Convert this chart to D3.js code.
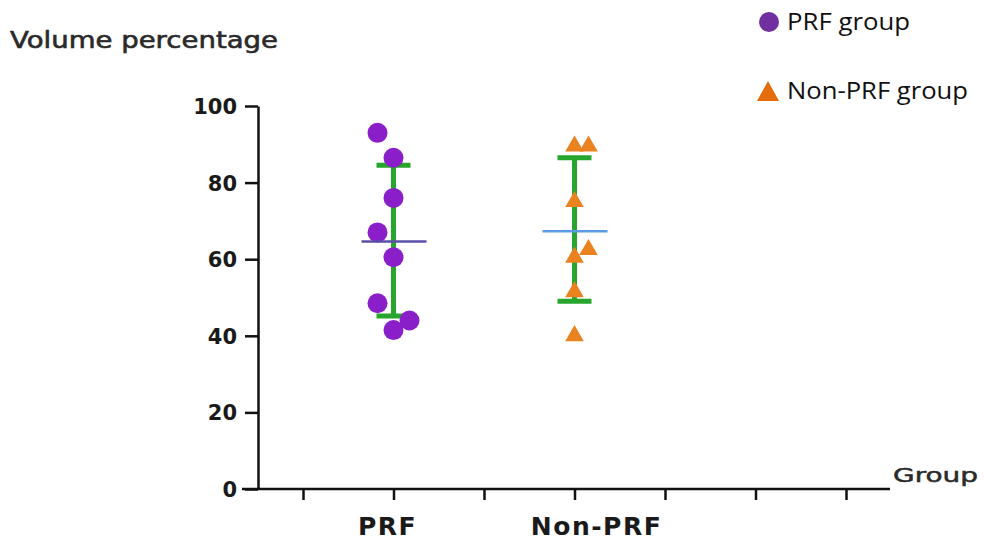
<!DOCTYPE html>
<html>
<head>
<meta charset="utf-8">
<script src="https://cdn.jsdelivr.net/npm/d3@7"></script>
<style>
  body { margin: 0; background: #fff; }
  svg { display: block; }
</style>
</head>
<body>
<svg id="chart" width="985" height="548"></svg>
<script>
// values
var yTicks = [0, 20, 40, 60, 80, 100]
var xSlots = [0, 1, 2, 3, 4, 5, 6]
var groupNames = ["PRF", "Non-PRF"]
var groupSlots = [1, 3]
var legendNames = ["PRF group", "Non-PRF group"]

var prfValues = [93, 86.5, 76, 67, 60.5, 48.5, 44, 41.5]
var prfLanes = [-1, 0, 0, -1, 0, -1, 1, 0]
var nonPrfValues = [89.5, 89.5, 75, 62.5, 60.5, 51.5, 40]
var nonPrfLanes = [0, 1, 0, 1, 0, 0, 0]

var means = [64.6, 67.3]
var upper = [84.5, 86.5]
var lower = [45.2, 49]

var svg = d3.select('#chart')

var x = d3.scaleLinear().domain([0, 6]).range([303, 846])
var y = d3.scaleLinear().domain([0, 100]).range([489, 106])

// y axis
var yAxis = svg.append('g')
    .attr('transform', 'translate(258,0)')
    .call(d3.axisLeft(y).tickValues(yTicks).tickSize(13).tickPadding(8).tickSizeOuter(0))
yAxis.select('.domain').attr('stroke', '#111').attr('stroke-width', 2.5)
yAxis.selectAll('.tick line').attr('stroke', '#111').attr('stroke-width', 2.5)
yAxis.selectAll('.tick text')
    .attr('fill', '#1a1a1a')
    .attr('dy', '0.36em')
    .style('font-family', 'DejaVu Sans')
    .style('font-weight', 'bold')
    .style('font-size', '21px')

// x axis
var xAxis = svg.append('g')
    .attr('transform', 'translate(0,489)')
    .call(d3.axisBottom(x).tickValues(xSlots).tickSize(11).tickFormat('').tickSizeOuter(0))
xAxis.select('.domain').attr('d', 'M242,0H890').attr('stroke', '#111').attr('stroke-width', 2.5)
xAxis.selectAll('.tick line').attr('stroke', '#111').attr('stroke-width', 2.5)

var labelNudge = [-6, 22]
svg.selectAll('.groupLabel')
    .data(groupNames)
    .enter().append('text')
    .attr('class', 'groupLabel')
    .attr('x', (d, i) => x(groupSlots[i]) + labelNudge[i])
    .attr('y', 535)
    .attr('text-anchor', 'middle')
    .attr('fill', '#1a1a1a')
    .style('font-family', 'DejaVu Sans')
    .style('font-weight', 'bold')
    .style('font-size', '25px')
    .style('letter-spacing', '1.5px')
    .text(d => d)

// axis titles
svg.append('text')
    .attr('x', 10).attr('y', 48)
    .attr('textLength', 268).attr('lengthAdjust', 'spacingAndGlyphs')
    .attr('fill', '#2a2a2a')
    .attr('stroke', '#2a2a2a').attr('stroke-width', 0.6)
    .style('font-family', 'DejaVu Sans')
    .style('font-size', '23px')
    .text('Volume percentage')
svg.append('text')
    .attr('x', 893).attr('y', 482)
    .attr('textLength', 85).attr('lengthAdjust', 'spacingAndGlyphs')
    .attr('fill', '#2a2a2a')
    .attr('stroke', '#2a2a2a').attr('stroke-width', 0.5)
    .style('font-family', 'DejaVu Sans')
    .style('font-size', '20px')
    .text('Group')

// error bars (mean +/- SD)
var laneStep = 16
var barG = svg.append('g')
groupSlots.forEach(function (s, i) {
    var cx = x(s)
    barG.append('line')
        .attr('x1', cx).attr('x2', cx)
        .attr('y1', y(upper[i])).attr('y2', y(lower[i]))
        .attr('stroke', '#27a52c').attr('stroke-width', 5)
    ;[upper[i], lower[i]].forEach(function (v) {
        barG.append('line')
            .attr('x1', cx - 17).attr('x2', cx + 17)
            .attr('y1', y(v)).attr('y2', y(v))
            .attr('stroke', '#27a52c').attr('stroke-width', 5)
    })
})

// PRF points
svg.selectAll('.prfDot')
    .data(prfValues)
    .enter().append('circle')
    .attr('class', 'prfDot')
    .attr('cx', (d, i) => x(groupSlots[0]) + prfLanes[i] * laneStep)
    .attr('cy', d => y(d))
    .attr('r', 10)
    .attr('fill', '#8a1fc9')

// Non-PRF points
var tri = d3.symbol().type(d3.symbolTriangle).size(150)
svg.selectAll('.nonPrfTri')
    .data(nonPrfValues)
    .enter().append('path')
    .attr('class', 'nonPrfTri')
    .attr('d', tri)
    .attr('transform', (d, i) => 'translate(' + (x(groupSlots[1]) + nonPrfLanes[i] * 14) + ',' + y(d) + ')')
    .attr('fill', '#ea8220')

// mean lines
var meanColors = ['#5a4fa6', '#5b9be6']
groupSlots.forEach(function (s, i) {
    svg.append('line')
        .attr('x1', x(s) - 32).attr('x2', x(s) + 33)
        .attr('y1', y(means[i])).attr('y2', y(means[i]))
        .attr('stroke', meanColors[i]).attr('stroke-width', 2.5)
})

// legend
var legend = svg.append('g')
legend.append('circle').attr('cx', 769).attr('cy', 22).attr('r', 10).attr('fill', '#7030a0')
legend.append('path')
    .attr('d', 'M768,81L779,101L757,101Z')
    .attr('fill', '#e46c0a')
var legendWidths = [123, 181]
legend.selectAll('text')
    .data(legendNames)
    .enter().append('text')
    .attr('x', 787)
    .attr('y', (d, i) => i === 0 ? 30 : 99)
    .attr('textLength', (d, i) => legendWidths[i])
    .attr('lengthAdjust', 'spacingAndGlyphs')
    .attr('fill', '#111')
    .style('font-family', 'Open Sans')
    .style('font-size', '24px')
    .text(d => d)
</script>
</body>
</html>
